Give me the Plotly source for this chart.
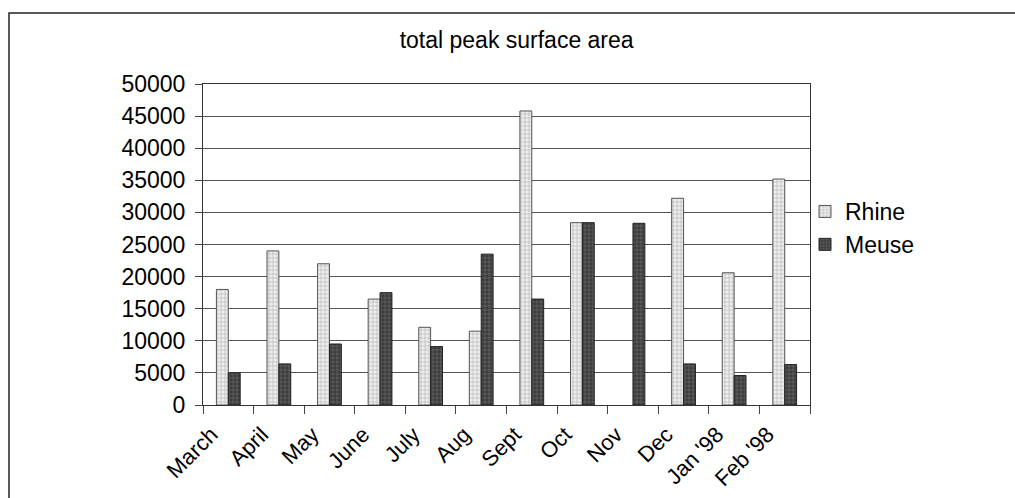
import plotly.graph_objects as go

months = ["March", "April", "May", "June", "July", "Aug", "Sept", "Oct", "Nov", "Dec", "Jan '98", "Feb '98"]
rhine = [18000, 24000, 22000, 16500, 12100, 11500, 45800, 28400, None, 32200, 20600, 35200]
meuse = [5000, 6400, 9500, 17500, 9100, 23500, 16500, 28400, 28300, 6400, 4600, 6300]
y_ticks = [0, 5000, 10000, 15000, 20000, 25000, 30000, 35000, 40000, 45000, 50000]

FONT = "Liberation Sans, Arial, sans-serif"
FS = 23

fig = go.Figure()
fig.add_trace(go.Bar(
    name="Rhine", x=months, y=rhine,
    marker=dict(color="#e4e4e4",
                line=dict(color="#555555", width=1),
                pattern=dict(shape="+", fgcolor="#8a8a8a", bgcolor="#eeeeee", size=4, solidity=0.35)),
))
fig.add_trace(go.Bar(
    name="Meuse", x=months, y=meuse,
    marker=dict(color="#444444",
                line=dict(color="#222222", width=1),
                pattern=dict(shape="+", fgcolor="#9a9a9a", bgcolor="#3c3c3c", size=4, solidity=0.3)),
))

fig.update_layout(
    width=1015, height=498,
    margin=dict(l=203, r=205, t=84, b=93, autoexpand=False),
    paper_bgcolor="white", plot_bgcolor="white",
    font=dict(family=FONT, size=FS, color="black"),
    barmode="group", bargap=0.53, bargroupgap=0,
    title=dict(text="total peak surface area", x=0.509, xanchor="center",
               y=1 - 40 / 498, yanchor="middle", yref="container",
               font=dict(family=FONT, size=FS, color="black")),
    legend=dict(x=(805 - 203) / 607, xanchor="left", y=(405 - 190) / 321, yanchor="top",
                bgcolor="rgba(0,0,0,0)", borderwidth=0,
                font=dict(family=FONT, size=FS, color="black")),
    showlegend=True,
)

fig.update_xaxes(
    type="category", tickangle=-45, ticks="outside", tickson="boundaries", ticklen=8,
    tickcolor="#444", showline=True, linecolor="#333", linewidth=1, mirror=True,
    showgrid=False, tickfont=dict(family=FONT, size=22, color="black"),
    ticklabelstandoff=7, ticklabelshift=-17, automargin=False,
)
fig.update_yaxes(
    range=[0, 50000], tickvals=y_ticks, tickformat="d", ticks="outside", ticklen=7,
    tickcolor="#444", showline=True, linecolor="#333", linewidth=1, mirror=True,
    showgrid=True, gridcolor="#555555", gridwidth=1, zeroline=False,
    tickfont=dict(family=FONT, size=FS, color="black"),
    ticklabelstandoff=5, automargin=False,
)

# outer chart border (left and top visible)
fig.add_shape(type="rect", xref="paper", yref="paper",
              x0=(9 - 203) / 607, x1=(1030 - 203) / 607,
              y0=(405 - 520) / 321, y1=(405 - 13) / 321,
              line=dict(color="#222222", width=1.5), fillcolor="rgba(0,0,0,0)", layer="below")

fig.write_html("out.html")
